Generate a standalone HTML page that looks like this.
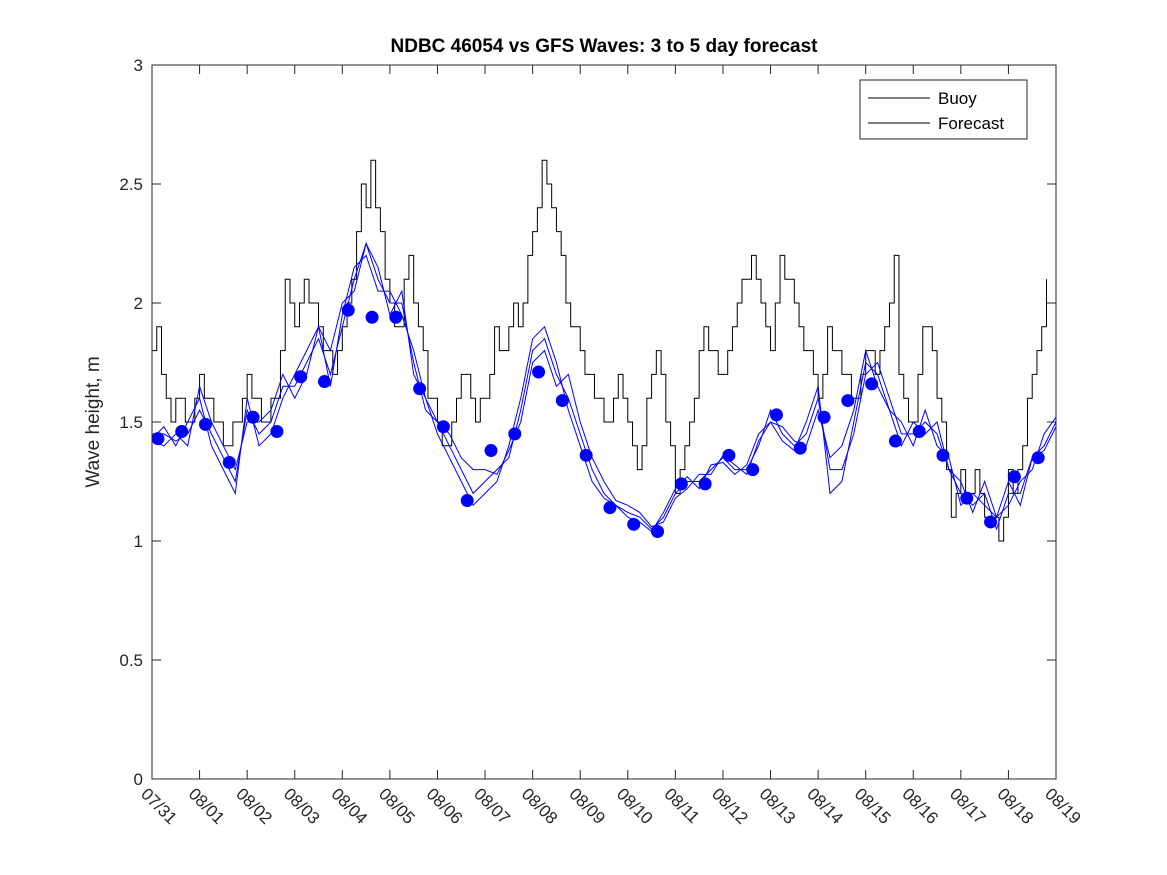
<!DOCTYPE html>
<html><head><meta charset="utf-8"><style>
body{margin:0;background:#fff;}
svg{display:block;font-family:"Liberation Sans","DejaVu Sans",sans-serif;}
</style></head><body>
<svg id="chart" width="1167" height="875">
<rect width="1167" height="875" fill="#fff"/>
<text x="604" y="52" text-anchor="middle" font-size="19" font-weight="bold" fill="#000">NDBC 46054 vs GFS Waves: 3 to 5 day forecast</text>
<text transform="translate(99,422) rotate(-90)" text-anchor="middle" font-size="19" fill="#262626">Wave height, m</text>
<g id="plot"></g>
<rect x="152" y="65" width="904" height="714" fill="none" stroke="#262626" stroke-width="1"/>
<g>
<rect x="860" y="80" width="167" height="59" fill="#fff" stroke="#262626" stroke-width="1"/>
<line x1="868" y1="98" x2="930" y2="98" stroke="#000"/>
<text x="938" y="104" font-size="17" fill="#000">Buoy</text>
<line x1="868" y1="123" x2="930" y2="123" stroke="#000"/>
<text x="938" y="129" font-size="17" fill="#000">Forecast</text>
</g>
</svg>
<script>
const xLabels=["07/31","08/01","08/02","08/03","08/04","08/05","08/06","08/07","08/08","08/09","08/10","08/11","08/12","08/13","08/14","08/15","08/16","08/17","08/18","08/19"];
const yTicks=[0,0.5,1,1.5,2,2.5,3];
const buoyStart=0, buoyStep=0.2;
const buoy=[1.8,1.7,1.5,1.6,1.5,1.7,1.6,1.5,1.4,1.5,1.7,1.6,1.5,1.6,2.1,1.9,2.1,2.0,1.8,1.7,1.9,2.1,2.5,2.6,2.3,2.0,1.9,2.2,1.9,1.6,1.5,1.4,1.6,1.7,1.5,1.6,1.9,1.8,2.0,2.0,2.3,2.6,2.4,2.2,1.9,1.8,1.7,1.6,1.5,1.7,1.5,1.3,1.6,1.8,1.5,1.2,1.4,1.6,1.9,1.8,1.7,1.9,2.1,2.2,2.0,1.8,2.2,2.1,1.9,1.8,1.6,1.9,1.8,1.7,1.6,1.8,1.7,1.9,2.2,1.6,1.5,1.9,1.8,1.5,1.1,1.3,1.2,1.2,1.1,1.0,1.3,1.3,1.6,1.8,2.1];
const buoyMid=[1.9,1.6,1.6,1.5,1.6,1.6,1.5,1.4,1.5,1.6,1.6,1.5,1.6,1.8,2.0,2.0,2.0,1.9,1.8,1.8,2.0,2.3,2.4,2.4,2.1,1.9,2.1,2.0,1.8,1.6,1.4,1.5,1.7,1.6,1.6,1.7,1.8,1.9,1.9,2.2,2.4,2.5,2.3,2.0,1.9,1.7,1.6,1.5,1.6,1.6,1.4,1.4,1.7,1.7,1.4,1.3,1.5,1.8,1.8,1.7,1.8,2.0,2.1,2.1,1.9,2.0,2.1,2.0,1.8,1.7,1.7,1.8,1.7,1.6,1.7,1.8,1.8,2.0,1.7,1.5,1.7,1.9,1.6,1.3,1.2,1.2,1.3,1.1,1.1,1.1,1.2,1.4,1.7,1.9];
const fcStep=0.25;
const fcA=[1.45,1.45,1.42,1.45,1.55,1.45,1.35,1.25,1.55,1.45,1.5,1.65,1.65,1.75,1.85,1.7,1.9,2.1,2.25,2.1,2.0,2.0,1.75,1.55,1.5,1.4,1.3,1.2,1.25,1.3,1.35,1.55,1.8,1.85,1.7,1.6,1.45,1.3,1.2,1.15,1.12,1.1,1.05,1.1,1.2,1.25,1.25,1.3,1.35,1.3,1.3,1.4,1.55,1.45,1.4,1.45,1.6,1.3,1.3,1.45,1.7,1.75,1.6,1.45,1.45,1.5,1.45,1.3,1.2,1.15,1.2,1.05,1.2,1.2,1.35,1.4,1.5];
const fcB=[1.43,1.48,1.4,1.5,1.6,1.4,1.3,1.2,1.6,1.4,1.45,1.6,1.7,1.8,1.9,1.65,1.95,2.15,2.2,2.05,2.05,1.95,1.8,1.6,1.45,1.35,1.25,1.15,1.2,1.25,1.4,1.6,1.85,1.9,1.75,1.55,1.4,1.25,1.18,1.15,1.1,1.08,1.04,1.12,1.22,1.27,1.22,1.32,1.33,1.28,1.32,1.45,1.5,1.42,1.38,1.5,1.65,1.2,1.25,1.5,1.75,1.7,1.55,1.5,1.4,1.55,1.4,1.35,1.15,1.2,1.15,1.1,1.15,1.25,1.3,1.45,1.52];
const fcC=[1.42,1.4,1.45,1.4,1.65,1.5,1.4,1.3,1.5,1.5,1.55,1.7,1.6,1.7,1.9,1.8,2.0,2.05,2.25,2.15,1.95,2.05,1.7,1.6,1.5,1.45,1.35,1.3,1.3,1.28,1.38,1.5,1.75,1.8,1.65,1.7,1.5,1.35,1.25,1.17,1.15,1.12,1.06,1.08,1.18,1.22,1.28,1.28,1.36,1.32,1.28,1.42,1.5,1.48,1.42,1.4,1.55,1.35,1.4,1.55,1.8,1.65,1.55,1.4,1.5,1.45,1.5,1.3,1.25,1.12,1.25,1.1,1.25,1.15,1.35,1.38,1.48];
const dotStart=0.125, dotStep=0.5;
const dots=[1.43,1.46,1.49,1.33,1.52,1.46,1.69,1.67,1.97,1.94,1.94,1.64,1.48,1.17,1.38,1.45,1.71,1.59,1.36,1.14,1.07,1.04,1.24,1.24,1.36,1.30,1.53,1.39,1.52,1.59,1.66,1.42,1.46,1.36,1.18,1.08,1.27,1.35];

const X0=152,X1=1056,Y0=779,Y1=65,NS="http://www.w3.org/2000/svg";
const xs=d=>X0+(X1-X0)*d/19;
const ys=v=>Y0-(Y0-Y1)*v/3;
const plot=document.getElementById('plot');
function el(t,a){const e=document.createElementNS(NS,t);for(const k in a)e.setAttribute(k,a[k]);plot.appendChild(e);return e;}
yTicks.forEach(v=>{
  const y=ys(v);
  const t1=el('line',{x1:X0,y1:y,x2:X0+9,y2:y,stroke:'#262626'});
  
  
  el('line',{x1:X1,y1:y,x2:X1-9,y2:y,stroke:'#262626'});
  const t=el('text',{x:X0-9,y:y+6,'text-anchor':'end','font-size':17,fill:'#262626'});
  t.textContent=String(v);
  
  
});
xLabels.forEach((l,i)=>{
  const x=xs(i);
  const tk=el('line',{x1:x,y1:Y0,x2:x,y2:Y0-9,stroke:'#262626'});
  
  
  el('line',{x1:x,y1:Y1,x2:x,y2:Y1+9,stroke:'#262626'});
  const t=el('text',{transform:`translate(${x-12},${Y0+16}) rotate(45)`,'font-size':17,fill:'#262626'});
  t.textContent=l;
  
  
});
// buoy: interleave main and mid readings, stepped
const seq=[];
buoy.forEach((v,i)=>{seq.push(v);if(i<buoyMid.length&&i<buoy.length-1)seq.push(buoyMid[i]);});
const hs=buoyStep/2;
let d='';
seq.forEach((v,i)=>{
  const x=xs(buoyStart+i*hs),y=ys(v);
  d+=(i===0?`M${x},${y}`:`V${y}`);
  if(i<seq.length-1)d+=`H${xs(buoyStart+(i+1)*hs)}`;
});
const bl=el('path',{d:d,fill:'none',stroke:'#000','stroke-width':1});


[fcA,fcB,fcC].forEach((s,k)=>{
  const p=el('path',{d:s.map((v,i)=>(i?'L':'M')+xs(i*fcStep)+','+ys(v)).join(''),fill:'none',stroke:'#0000ff','stroke-width':1});
  
  
});
dots.forEach((v,i)=>{
  const c=el('circle',{cx:xs(dotStart+i*dotStep),cy:ys(v),r:6.5,fill:'#0000ff'});
  
  
});
</script>
</body></html>
